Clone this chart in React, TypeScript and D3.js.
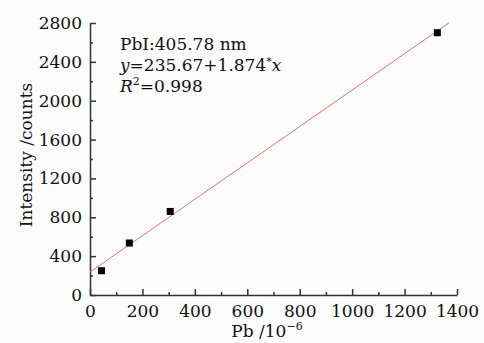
import React, { useRef, useEffect } from 'react';
import * as d3 from 'd3';

const concentrations = [44, 150, 306, 1325];
const intensities = [250, 535, 860, 2700];
const fitIntercept = 235.67;
const fitSlope = 1.874;
const fitRange = [0, 1370];
const xTicks = [0, 200, 400, 600, 800, 1000, 1200, 1400];
const yTicks = [0, 400, 800, 1200, 1600, 2000, 2400, 2800];

const width = 484;
const height = 343;
const marginLeft = 90;
const marginRight = 27;
const marginTop = 23;
const marginBottom = 48;
const font = '"DejaVu Serif", "Liberation Serif", serif';
const fs = 17;

const App: React.FC = () => {
  const svgRef = useRef<SVGSVGElement | null>(null);

  useEffect(() => {
    const svg = d3.select(svgRef.current);
    svg.selectAll('*').remove();

    svg.append('rect').attr('width', width).attr('height', height).attr('fill', '#fcfcfc');

    const x = d3.scaleLinear().domain([0, 1400]).range([marginLeft, width - marginRight]);
    const y = d3.scaleLinear().domain([0, 2800]).range([height - marginBottom, marginTop]);

    // bottom axis, ticks pointing inward
    const gx = svg.append('g').attr('transform', `translate(0,${height - marginBottom})`);
    gx.call(d3.axisTop(x).tickValues(d3.range(100, 1400, 200)).tickSize(3).tickFormat(() => ''));
    gx.call(g => g.selectAll('.domain').remove());
    const gxMaj = svg.append('g').attr('transform', `translate(0,${height - marginBottom})`);
    gxMaj.call(d3.axisTop(x).tickValues(xTicks).tickSize(6).tickSizeOuter(0).tickFormat(d3.format('d')));
    gxMaj.selectAll('text').attr('y', 22).attr('dy', null).attr('font-size', fs).attr('font-family', font).attr('fill', '#111');

    // left axis, ticks pointing inward
    const gy = svg.append('g').attr('transform', `translate(${marginLeft},0)`);
    gy.call(d3.axisRight(y).tickValues(d3.range(200, 2800, 400)).tickSize(3).tickFormat(() => ''));
    gy.call(g => g.selectAll('.domain').remove());
    const gyMaj = svg.append('g').attr('transform', `translate(${marginLeft},0)`);
    gyMaj.call(d3.axisRight(y).tickValues(yTicks).tickSize(6).tickSizeOuter(0).tickFormat(d3.format('d')));
    gyMaj.selectAll('text').attr('x', -8).attr('text-anchor', 'end').attr('font-size', fs).attr('font-family', font).attr('fill', '#111');

    svg.selectAll('.domain, .tick line').attr('stroke', '#333').attr('stroke-width', 1.5);

    // fit line
    const line = d3.line<number>().x(d => x(d)).y(d => y(fitIntercept + fitSlope * d));
    svg.append('path')
      .datum(fitRange)
      .attr('fill', 'none')
      .attr('stroke', '#f0715e')
      .attr('stroke-width', 1)
      .attr('d', line);

    // data points
    svg.append('g')
      .selectAll('rect')
      .data(concentrations)
      .join('rect')
      .attr('x', (d) => x(d) - 3.5)
      .attr('y', (_, i) => y(intensities[i]) - 3.5)
      .attr('width', 7)
      .attr('height', 7)
      .attr('fill', '#000');

    // annotation
    const ann = svg.append('text').attr('font-family', font).attr('font-size', fs).attr('fill', '#111');
    ann.append('tspan').attr('x', 120).attr('y', 50).text('PbI:405.78 nm');
    const l2 = ann.append('tspan').attr('x', 120).attr('y', 71);
    l2.append('tspan').attr('font-style', 'italic').text('y');
    l2.append('tspan').text('=235.67+1.874');
    l2.append('tspan').attr('font-size', 11).attr('dy', -6).text('*');
    l2.append('tspan').attr('font-style', 'italic').attr('dy', 6).text('x');
    const l3 = ann.append('tspan').attr('x', 120).attr('y', 92);
    l3.append('tspan').attr('font-style', 'italic').text('R');
    l3.append('tspan').attr('font-size', 11).attr('dy', -7).text('2');
    l3.append('tspan').attr('dy', 7).text('=0.998');

    // axis titles
    const xt = svg.append('text')
      .attr('x', 267).attr('y', 337)
      .attr('text-anchor', 'middle')
      .attr('font-family', font).attr('font-size', fs).attr('fill', '#111');
    xt.append('tspan').text('Pb /10');
    xt.append('tspan').attr('font-size', 11).attr('dy', -7).text('−6');

    svg.append('text')
      .attr('transform', `translate(32,155) rotate(-90)`)
      .attr('text-anchor', 'middle')
      .attr('font-family', font).attr('font-size', fs).attr('fill', '#111')
      .text('Intensity /counts');
  }, []);

  return (
    <svg ref={svgRef} width={width} height={height}
      style={{ position: 'absolute', left: 0, top: 0, display: 'block' }} />
  );
};

export default App;
